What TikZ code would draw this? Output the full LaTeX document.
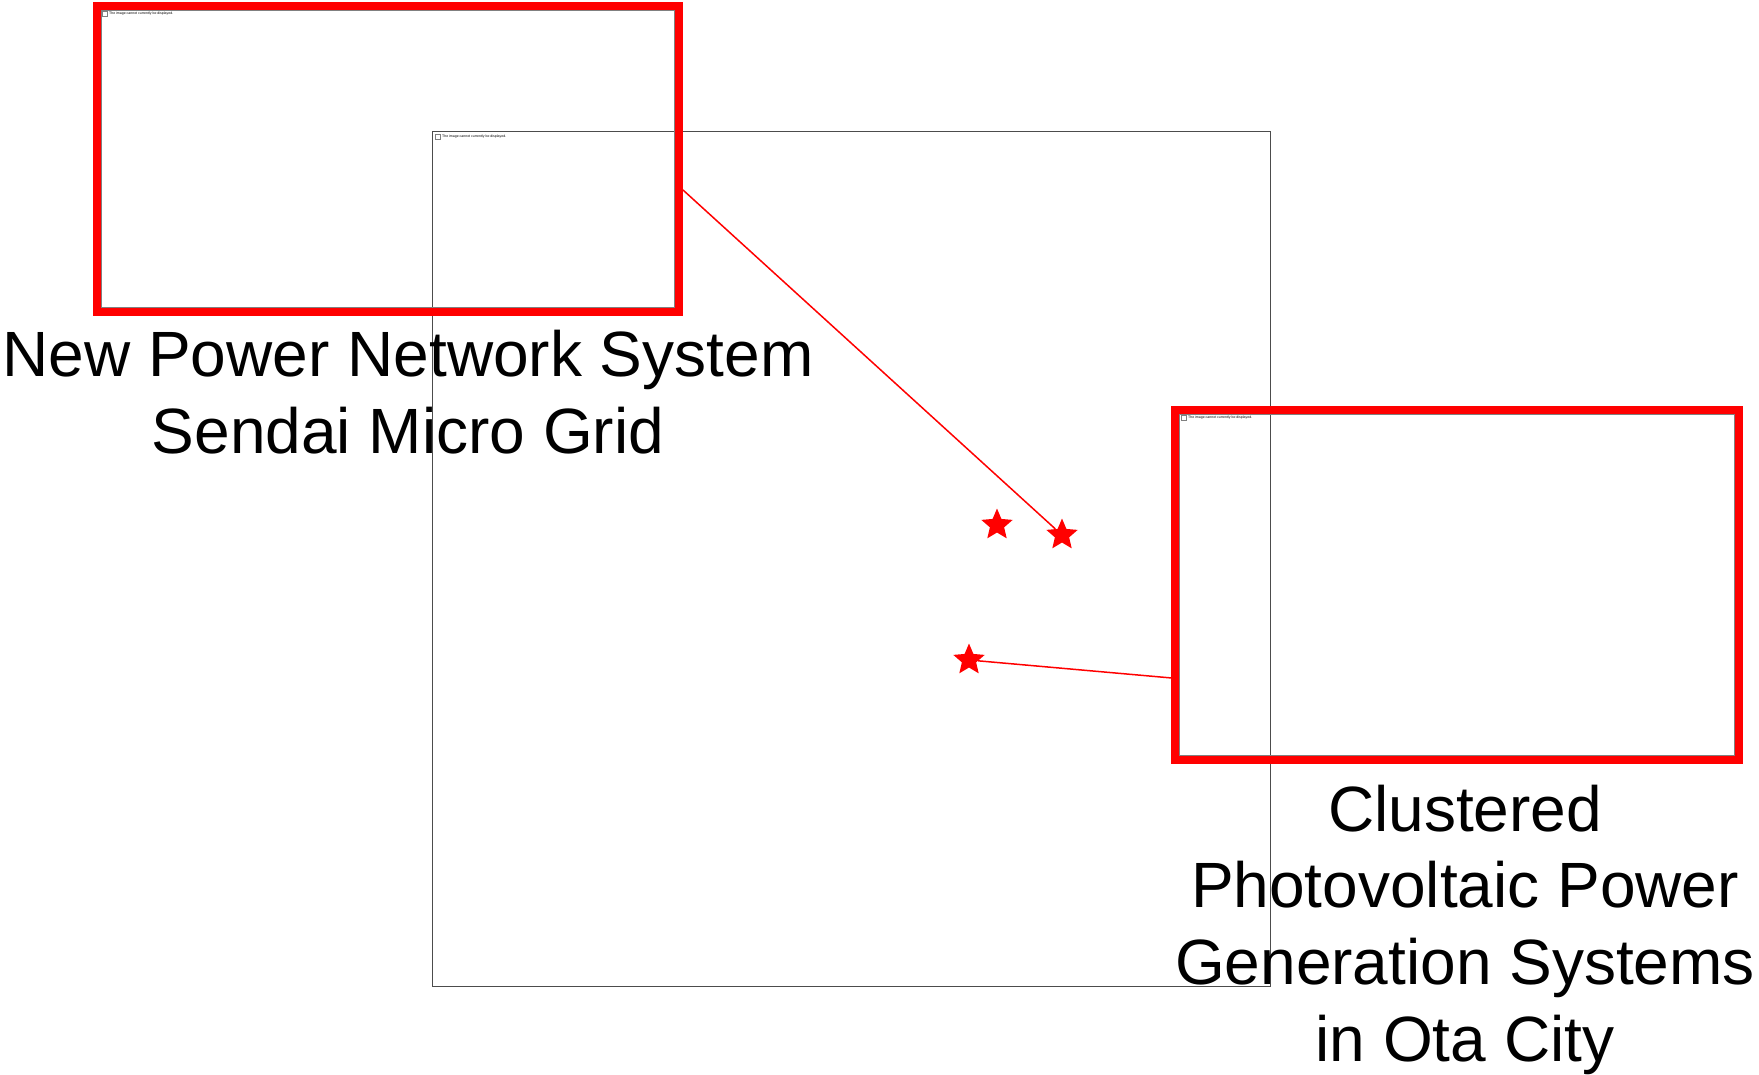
\documentclass[tikz,border=0pt]{standalone}
\usepackage{fontspec}
\setmainfont{Liberation Sans}
\usetikzlibrary{shapes.geometric}

\begin{document}
\begin{tikzpicture}[x=1pt,y=-1pt,
    inset/.style={draw=red,line width=8pt,inner sep=0pt},
    site/.style={star,star points=5,star point ratio=2.2,fill=red,inner sep=0pt,minimum size=33pt},
    caption/.style={font=\fontsize{64}{76.6}\selectfont,align=center,inner sep=0pt},
    missing/.style={font=\fontsize{3.5}{4}\selectfont,anchor=west,inner sep=0pt}]
    \useasboundingbox (0,0) rectangle (1759,1074);
    % map of the area
    \node[draw=black!70,line width=1pt,minimum width=838pt,minimum height=855pt,inner sep=0pt,anchor=north west] (map) at (432,131) {};
    \draw[black!50,fill=white] (435,134) rectangle (440,139);
    \node[missing] (mapmsg) at (442,136.5) {The image cannot currently be displayed.};
    % sites
    \node[site] (site1) at (997,525) {};
    \node[site] (site2) at (1062,535) {};
    \node[site] (site3) at (969,660) {};
    % insets
    \node[inset,minimum width=582pt,minimum height=306pt] (sendai) at (388,159) {};
    \node[inset,minimum width=564pt,minimum height=350pt] (ota) at (1457,585) {};
    \draw[black!50] ([shift={(8.5,8.5)}]sendai.north west) rectangle ([shift={(-8.5,-8.5)}]sendai.south east);
    \draw[black!50] ([shift={(8.5,8.5)}]ota.north west) rectangle ([shift={(-8.5,-8.5)}]ota.south east);
    \draw[black!50,fill=white] (102,11) rectangle (107,16);
    \node[missing] (sendaimsg) at (109,13.5) {The image cannot currently be displayed.};
    \draw[black!50,fill=white] (1181,415) rectangle (1186,420);
    \node[missing] (otamsg) at (1188,417.5) {The image cannot currently be displayed.};
    % connectors
    \draw[red,line width=1.5pt] (sendai.-6.5) -- (site2);
    \draw[red,line width=1.5pt] (site3) -- (ota.198.4);
    % captions
    \node[caption,anchor=base] (sendaitext) at (408,453) {New Power Network System\\Sendai Micro Grid};
    \node[caption,anchor=base] (otatext) at (1465,1061) {Clustered\\Photovoltaic Power\\Generation Systems\\in Ota City};
\end{tikzpicture}
\end{document}
